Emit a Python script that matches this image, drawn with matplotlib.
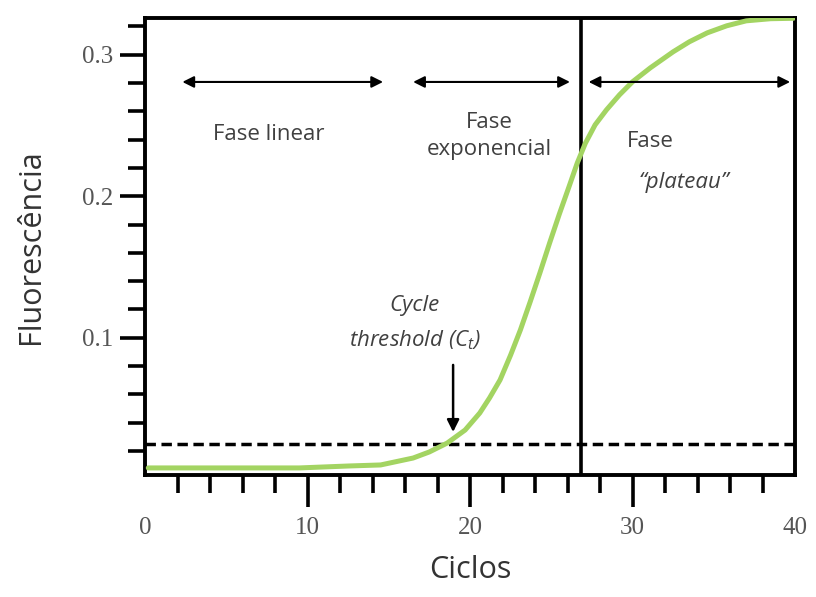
import matplotlib
matplotlib.use("Agg")
import matplotlib.pyplot as plt

# curve (cycle, fluorescence)
ciclos = [0.2, 6.5, 9.5, 12.6, 14.5, 16.5, 17.5, 18.6, 19.7, 20.6, 21.2, 21.85,
          22.5, 23.1, 23.7, 24.3, 24.9, 25.5, 26.1, 26.6, 27.1, 27.7, 28.4,
          29.2, 30.0, 31.1, 32.5, 33.5, 34.6, 35.8, 37.0, 38.5, 39.9]
fluor = [0.008, 0.008, 0.008, 0.0094, 0.0101, 0.015, 0.0193, 0.0256, 0.0348,
         0.0468, 0.0574, 0.0702, 0.0878, 0.1055, 0.1253, 0.1458, 0.167, 0.1875,
         0.207, 0.2235, 0.2375, 0.2505, 0.2611, 0.2717, 0.2809, 0.2908,
         0.3021, 0.3092, 0.3155, 0.3205, 0.324, 0.3255, 0.3258]

threshold = 0.025
ct_cycle = 18.96
plateau_start = 26.83

x_ticks = [0, 10, 20, 30, 40]
y_ticks = [0.1, 0.2, 0.3]
y_tick_labels = ["0.1", "0.2", "0.3"]

fases = [(2.3, 14.65), (16.5, 26.15), (27.3, 39.7)]

plt.rcParams['mathtext.fontset'] = 'custom'
plt.rcParams['mathtext.rm'] = 'Open Sans'
plt.rcParams['mathtext.it'] = 'Open Sans:italic'

fig = plt.figure(figsize=(8.16, 5.97), dpi=100)
ax = fig.add_axes([145/816, 1 - 475/597, 650/816, 457/597])

ax.plot(ciclos, fluor, color="#a3d462", lw=3.6, solid_capstyle="round",
        solid_joinstyle="round", zorder=3)
ax.axhline(threshold, color="black", lw=2.5, ls=(0, (3, 1.6)), zorder=2)
ax.axvline(plateau_start, color="black", lw=2.6, zorder=2)

ax.set_xlim(0, 40)
ax.set_ylim(0.003, 0.326)

for s in ax.spines.values():
    s.set_linewidth(2.8)

ax.set_xticks(x_ticks)
ax.set_xticks([2, 4, 6, 8, 12, 14, 16, 18, 22, 24, 26, 28, 32, 34, 36, 38], minor=True)
ax.set_yticks(y_ticks)
ax.set_yticklabels(y_tick_labels)
ax.set_yticks([0.02, 0.04, 0.06, 0.08, 0.12, 0.14, 0.16, 0.18, 0.22, 0.24, 0.26, 0.28, 0.32], minor=True)

ax.tick_params(axis="x", which="major", length=23, width=2.6, pad=7, direction="out")
ax.tick_params(axis="x", which="minor", length=13, width=2.6, direction="out")
ax.tick_params(axis="y", which="major", length=18, width=2.6, pad=5, direction="out")
ax.tick_params(axis="y", which="minor", length=12, width=2.6, direction="out")
ax.xaxis.get_major_ticks()[0].tick1line.set_visible(False)
ax.xaxis.get_major_ticks()[-1].tick1line.set_visible(False)

for lab in ax.get_xticklabels() + ax.get_yticklabels():
    lab.set_fontfamily("Liberation Serif")
    lab.set_fontsize(18)
    lab.set_color("#555555")

ax.set_xlabel("Ciclos", fontfamily="Open Sans", fontsize=22, color="#333333", labelpad=12)
ax.set_ylabel("Fluorescência", fontfamily="Open Sans", fontsize=22, color="#333333", labelpad=26)

# phase arrows
for x0, x1 in fases:
    ax.annotate("", xy=(x0, 0.2808), xytext=(x1, 0.2808),
                arrowprops=dict(arrowstyle="<|-|>", color="black", lw=1.5,
                                mutation_scale=17, shrinkA=0, shrinkB=0))

txt = dict(fontfamily="Open Sans", fontsize=16, color="#404040")
ax.text(7.6, 0.2435, "Fase linear", ha="center", va="center", **txt)
ax.text(21.2, 0.2425, "Fase\nexponencial", ha="center", va="center", linespacing=1.35, **txt)
ax.text(29.66, 0.2384, "Fase", ha="left", va="center", **txt)
ax.text(30.4, 0.2094, "\u201cplateau\u201d", ha="left", va="center", style="italic", **txt)
ax.text(16.6, 0.1225, "Cycle", ha="center", va="center", style="italic", **txt)
ax.text(16.6, 0.0985, "threshold ($C_t$)", ha="center", va="center", style="italic", **txt)

ax.annotate("", xy=(ct_cycle, 0.0334), xytext=(ct_cycle, 0.0808),
            arrowprops=dict(arrowstyle="-|>", color="black", lw=1.8,
                            mutation_scale=18, shrinkA=0, shrinkB=0))

fig.savefig("out.png", dpi=100)
